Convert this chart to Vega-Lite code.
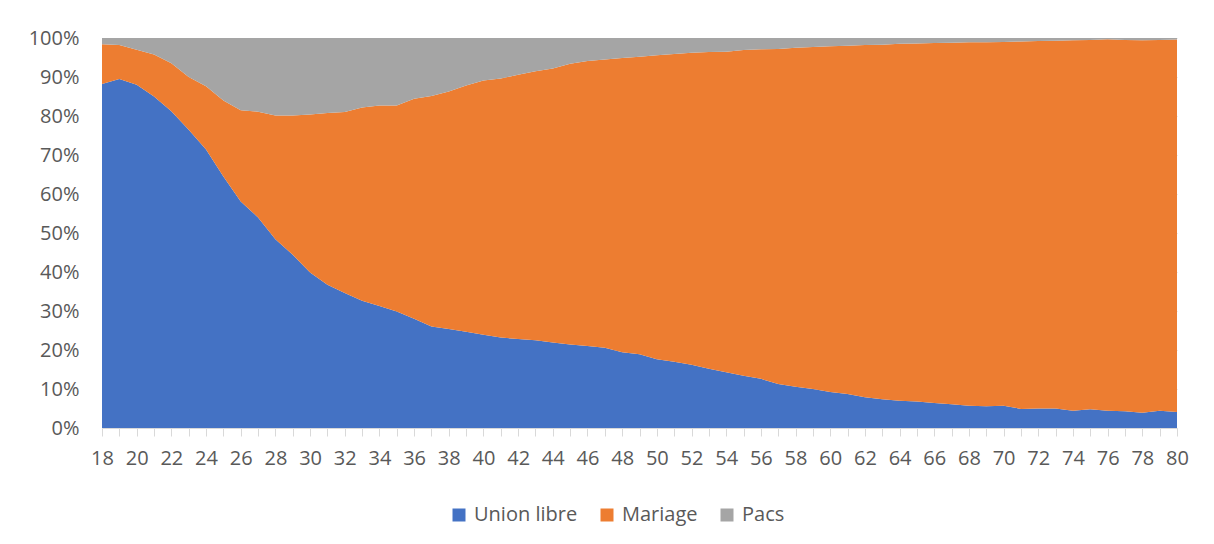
{
  "$schema": "https://vega.github.io/schema/vega-lite/v6.json",
  "autosize": {"type": "none"},
  "padding": {"left": 102, "top": 38, "right": 37, "bottom": 116},
  "width": 1075,
  "height": 390,
  "background": "white",
  "config": {"font": "Open Sans", "view": {"stroke": null}},
  "data": {"values": [
    {"age":18,"Union libre":88.2,"Mariage":10.2,"Pacs":1.6},
    {"age":19,"Union libre":89.5,"Mariage":8.7,"Pacs":1.8},
    {"age":20,"Union libre":88.0,"Mariage":9.0,"Pacs":3.0},
    {"age":21,"Union libre":85.0,"Mariage":10.8,"Pacs":4.2},
    {"age":22,"Union libre":81.2,"Mariage":12.3,"Pacs":6.5},
    {"age":23,"Union libre":76.5,"Mariage":13.5,"Pacs":10.0},
    {"age":24,"Union libre":71.4,"Mariage":16.2,"Pacs":12.4},
    {"age":25,"Union libre":64.5,"Mariage":19.5,"Pacs":16.0},
    {"age":26,"Union libre":58.1,"Mariage":23.4,"Pacs":18.5},
    {"age":27,"Union libre":54.0,"Mariage":27.1,"Pacs":18.9},
    {"age":28,"Union libre":48.4,"Mariage":31.7,"Pacs":19.9},
    {"age":29,"Union libre":44.4,"Mariage":35.7,"Pacs":19.9},
    {"age":30,"Union libre":39.9,"Mariage":40.5,"Pacs":19.6},
    {"age":31,"Union libre":36.7,"Mariage":44.1,"Pacs":19.2},
    {"age":32,"Union libre":34.6,"Mariage":46.4,"Pacs":19.0},
    {"age":33,"Union libre":32.6,"Mariage":49.6,"Pacs":17.8},
    {"age":34,"Union libre":31.3,"Mariage":51.4,"Pacs":17.3},
    {"age":35,"Union libre":29.9,"Mariage":52.8,"Pacs":17.3},
    {"age":36,"Union libre":28.0,"Mariage":56.4,"Pacs":15.6},
    {"age":37,"Union libre":26.0,"Mariage":59.1,"Pacs":14.9},
    {"age":38,"Union libre":25.4,"Mariage":60.9,"Pacs":13.7},
    {"age":39,"Union libre":24.7,"Mariage":63.1,"Pacs":12.2},
    {"age":40,"Union libre":23.9,"Mariage":65.2,"Pacs":10.9},
    {"age":41,"Union libre":23.2,"Mariage":66.4,"Pacs":10.4},
    {"age":42,"Union libre":22.8,"Mariage":67.8,"Pacs":9.4},
    {"age":43,"Union libre":22.5,"Mariage":69.0,"Pacs":8.5},
    {"age":44,"Union libre":21.9,"Mariage":70.3,"Pacs":7.8},
    {"age":45,"Union libre":21.4,"Mariage":72.0,"Pacs":6.6},
    {"age":46,"Union libre":21.0,"Mariage":73.1,"Pacs":5.9},
    {"age":47,"Union libre":20.6,"Mariage":73.9,"Pacs":5.5},
    {"age":48,"Union libre":19.4,"Mariage":75.5,"Pacs":5.1},
    {"age":49,"Union libre":18.9,"Mariage":76.3,"Pacs":4.8},
    {"age":50,"Union libre":17.6,"Mariage":78.0,"Pacs":4.4},
    {"age":51,"Union libre":17.0,"Mariage":78.9,"Pacs":4.1},
    {"age":52,"Union libre":16.2,"Mariage":80.0,"Pacs":3.8},
    {"age":53,"Union libre":15.2,"Mariage":81.2,"Pacs":3.6},
    {"age":54,"Union libre":14.3,"Mariage":82.2,"Pacs":3.5},
    {"age":55,"Union libre":13.4,"Mariage":83.5,"Pacs":3.1},
    {"age":56,"Union libre":12.6,"Mariage":84.5,"Pacs":2.9},
    {"age":57,"Union libre":11.3,"Mariage":85.9,"Pacs":2.8},
    {"age":58,"Union libre":10.6,"Mariage":86.9,"Pacs":2.5},
    {"age":59,"Union libre":10.0,"Mariage":87.7,"Pacs":2.3},
    {"age":60,"Union libre":9.2,"Mariage":88.7,"Pacs":2.1},
    {"age":61,"Union libre":8.7,"Mariage":89.3,"Pacs":2.0},
    {"age":62,"Union libre":7.9,"Mariage":90.3,"Pacs":1.8},
    {"age":63,"Union libre":7.4,"Mariage":90.9,"Pacs":1.7},
    {"age":64,"Union libre":7.0,"Mariage":91.5,"Pacs":1.5},
    {"age":65,"Union libre":6.8,"Mariage":91.8,"Pacs":1.4},
    {"age":66,"Union libre":6.4,"Mariage":92.3,"Pacs":1.3},
    {"age":67,"Union libre":6.1,"Mariage":92.7,"Pacs":1.2},
    {"age":68,"Union libre":5.7,"Mariage":93.2,"Pacs":1.1},
    {"age":69,"Union libre":5.6,"Mariage":93.3,"Pacs":1.1},
    {"age":70,"Union libre":5.7,"Mariage":93.3,"Pacs":1.0},
    {"age":71,"Union libre":4.9,"Mariage":94.2,"Pacs":0.9},
    {"age":72,"Union libre":5.0,"Mariage":94.2,"Pacs":0.8},
    {"age":73,"Union libre":5.0,"Mariage":94.3,"Pacs":0.7},
    {"age":74,"Union libre":4.4,"Mariage":95.0,"Pacs":0.6},
    {"age":75,"Union libre":4.8,"Mariage":94.7,"Pacs":0.5},
    {"age":76,"Union libre":4.4,"Mariage":95.3,"Pacs":0.3},
    {"age":77,"Union libre":4.3,"Mariage":95.2,"Pacs":0.5},
    {"age":78,"Union libre":3.9,"Mariage":95.5,"Pacs":0.6},
    {"age":79,"Union libre":4.4,"Mariage":95.1,"Pacs":0.5},
    {"age":80,"Union libre":4.1,"Mariage":95.5,"Pacs":0.4}
  ]},
  "transform": [
    {"fold": ["Union libre", "Mariage", "Pacs"], "as": ["statut", "pct"]},
    {"calculate": "indexof(['Union libre','Mariage','Pacs'], datum.statut)", "as": "ordre"}
  ],
  "mark": {"type": "area", "interpolate": "linear"},
  "encoding": {
    "x": {
      "field": "age", "type": "quantitative",
      "scale": {"domain": [18, 80], "nice": false, "zero": false},
      "axis": {
        "title": null,
        "values": [18,19,20,21,22,23,24,25,26,27,28,29,30,31,32,33,34,35,36,37,38,39,40,41,42,43,44,45,46,47,48,49,50,51,52,53,54,55,56,57,58,59,60,61,62,63,64,65,66,67,68,69,70,71,72,73,74,75,76,77,78,79,80],
        "labelExpr": "datum.value % 2 == 0 ? datum.label : ''",
        "labelFlush": false,
        "labelOverlap": false,
        "grid": false,
        "domainColor": "#D9D9D9",
        "domainWidth": 1,
        "tickColor": "#D9D9D9",
        "tickSize": 8,
        "labelFontSize": 20,
        "labelColor": "#595959",
        "labelPadding": 12
      }
    },
    "y": {
      "field": "pct", "type": "quantitative",
      "stack": "normalize",
      "scale": {"domain": [0, 1]},
      "axis": {
        "title": null,
        "format": ".0%",
        "values": [0,0.1,0.2,0.3,0.4,0.5,0.6,0.7,0.8,0.9,1],
        "domain": false,
        "ticks": false,
        "grid": true,
        "gridColor": "#D9D9D9",
        "labelFontSize": 20,
        "labelColor": "#595959",
        "labelPadding": 23
      }
    },
    "color": {
      "field": "statut", "type": "nominal",
      "scale": {"domain": ["Union libre", "Mariage", "Pacs"], "range": ["#4472C4", "#ED7D31", "#A5A5A5"]},
      "legend": {
        "title": null,
        "orient": "none",
        "direction": "horizontal",
        "legendX": 347,
        "legendY": 467,
        "symbolType": "square",
        "symbolSize": 169,
        "symbolStrokeWidth": 0,
        "symbolOpacity": 1,
        "labelFontSize": 20,
        "labelColor": "#595959",
        "columnPadding": 19,
        "labelOffset": 5
      }
    },
    "order": {"field": "ordre", "type": "quantitative"}
  }
}
